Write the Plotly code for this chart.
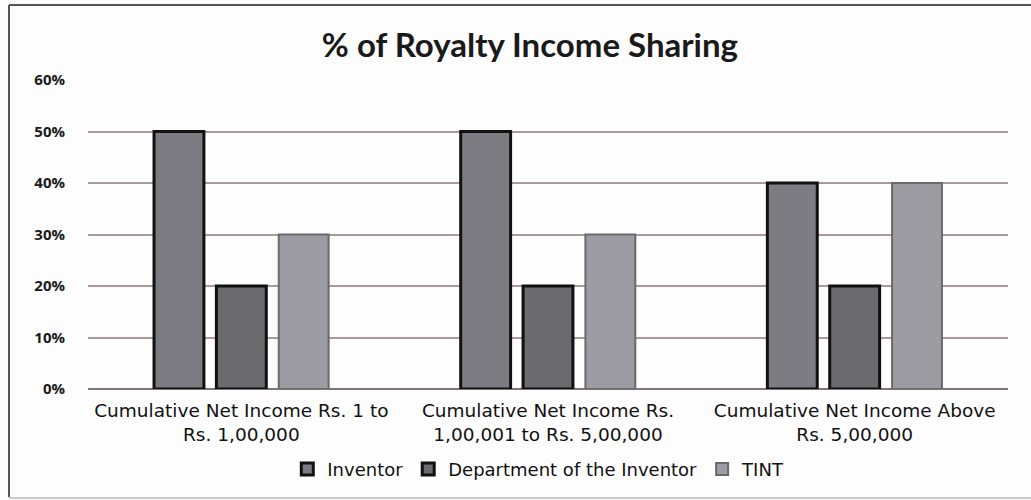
import plotly.graph_objects as go

categories = ["Cumulative Net Income Rs. 1 to<br>Rs. 1,00,000",
              "Cumulative Net Income Rs.<br>1,00,001 to Rs. 5,00,000",
              "Cumulative Net Income Above<br>Rs. 5,00,000"]
series_names = ["Inventor", "Department of the Inventor", "TINT"]
inventor = [0.50, 0.50, 0.40]
department = [0.20, 0.20, 0.20]
tint = [0.30, 0.30, 0.40]
tick_vals = [0, 0.1, 0.2, 0.3, 0.4, 0.5, 0.6]
tick_text = ["0%", "10%", "20%", "30%", "40%", "50%", "60%"]

fills = ["#7c7c82", "#6a6a6f", "#9c9ca2"]
borders = ["#111111", "#111111", "#6a6a6a"]
border_w = [3, 3, 2]

fig = go.Figure()
for name, vals, fc, bc, bw in zip(series_names, [inventor, department, tint], fills, borders, border_w):
    fig.add_trace(go.Bar(name=name, x=categories, y=vals,
                         marker=dict(color=fc, line=dict(color=bc, width=bw))))

PW, PH = 920, 309
def px(x):
    return (x - 88) / PW
def py(y):
    return (389 - y) / PH

border = dict(color="#555555", width=2)
fig.update_layout(
    width=1031, height=500,
    margin=dict(l=88, r=23, t=80, b=111),
    paper_bgcolor="#fdfdfd", plot_bgcolor="#fdfdfd",
    barmode="group", bargap=0.39, bargroupgap=0.2,
    title=dict(text="<b>% of Royalty Income Sharing</b>", x=0.514, xanchor="center",
               y=0.91, yanchor="middle",
               font=dict(family="Lato", size=33, color="#1a1a1a")),
    font=dict(family="DejaVu Sans", color="#1a1a1a"),
    xaxis=dict(showgrid=False, showline=False, ticks="", ticklabelstandoff=8,
               tickfont=dict(family="DejaVu Sans", size=18.5, color="#111111")),
    yaxis=dict(range=[0, 0.6], tickvals=tick_vals, ticktext=tick_text,
               showgrid=True, gridcolor="#a89a9c", gridwidth=1.5,
               zeroline=True, zerolinecolor="#7f7576", zerolinewidth=2,
               ticklabelstandoff=22,
               tickfont=dict(family="Open Sans", size=15, weight=700, color="#1a1a1a")),
    legend=dict(orientation="h", x=0.49, xanchor="center", y=-0.26, yanchor="middle",
                font=dict(family="DejaVu Sans", size=18, color="#111111"),
                itemwidth=30, traceorder="normal", bgcolor="rgba(0,0,0,0)"),
    showlegend=True,
    shapes=[
        dict(type="line", xref="paper", yref="paper", x0=px(9), x1=px(9), y0=py(497), y1=py(5), line=border),
        dict(type="line", xref="paper", yref="paper", x0=px(9), x1=px(1031), y0=py(5), y1=py(5), line=border),
        dict(type="line", xref="paper", yref="paper", x0=px(9), x1=px(1031), y0=py(498), y1=py(498),
             line=dict(color="#999999", width=1)),
    ],
)
fig.write_html("out.html", config={"displayModeBar": False},
               post_script="document.body.style.margin='0';")
